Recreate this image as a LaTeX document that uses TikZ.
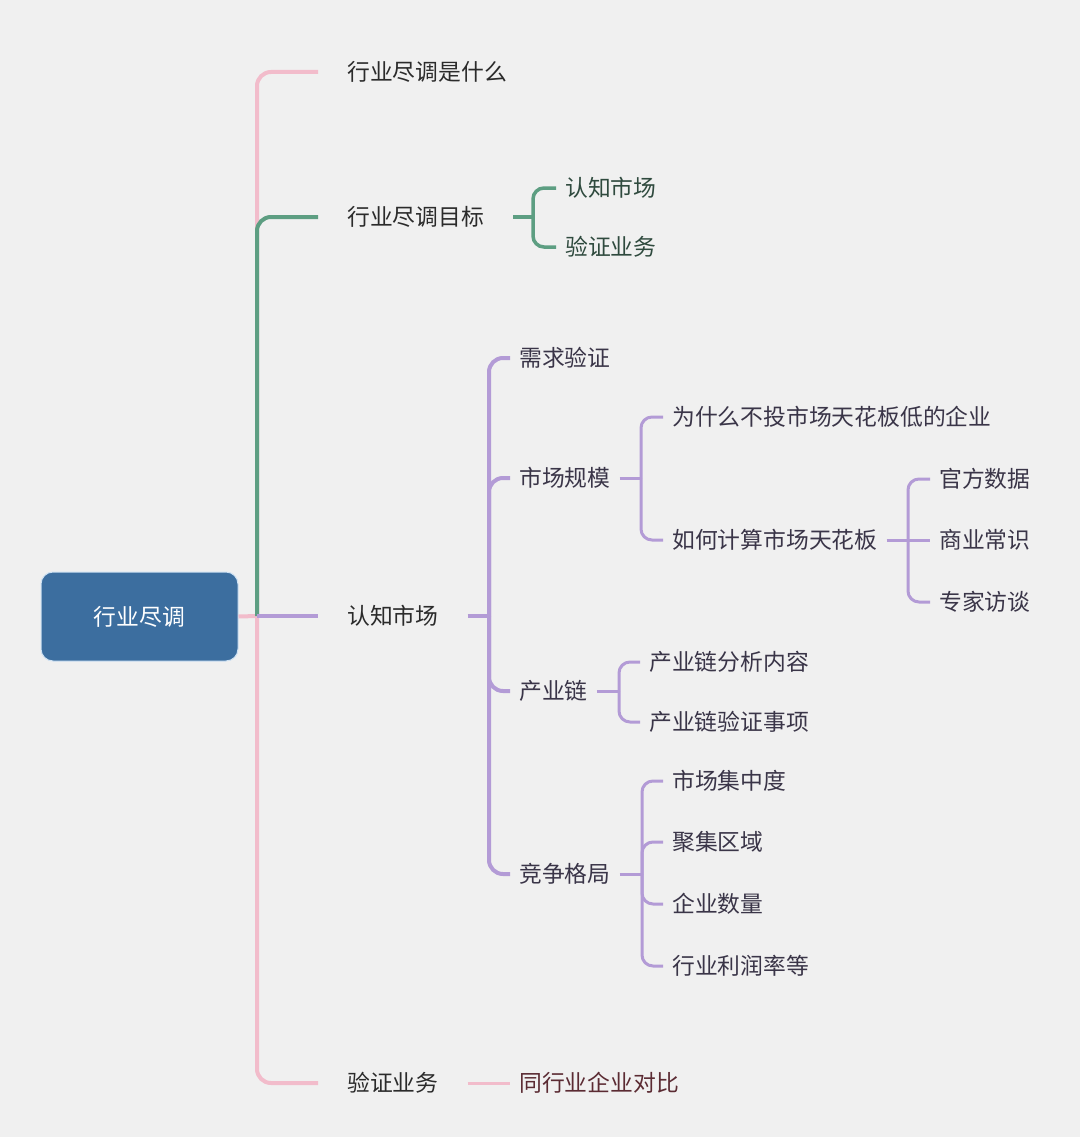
\documentclass[tikz,border=0pt]{standalone}
\usepackage{fontspec}
\setmainfont{Noto Sans CJK SC}
\definecolor{bg}{HTML}{F0F0F0}
\definecolor{rootc}{HTML}{3C6E9F}
\definecolor{rootb}{HTML}{CFE2F3}
\definecolor{pinkc}{HTML}{F2BCCB}
\definecolor{greenc}{HTML}{5D9E82}
\definecolor{purplec}{HTML}{B39BD6}
\definecolor{txtmain}{HTML}{2B2B2B}
\definecolor{txtgreen}{HTML}{2F4A3E}
\definecolor{txtpurple}{HTML}{3A3548}
\definecolor{txtred}{HTML}{5B2B33}
\tikzset{
  base/.style={anchor=west, inner ysep=0pt, text height=20pt, text depth=3pt, font=\fontsize{22.8}{27}\selectfont},
  lone/.style={base, inner xsep=29pt, text=txtmain},
  lgreen/.style={base, inner xsep=9pt, text=txtgreen},
  lpurple/.style={base, inner xsep=9pt, text=txtpurple},
  lred/.style={base, inner xsep=9pt, text=txtred},
  pinkline/.style={draw=pinkc, line width=4pt, rounded corners=14pt},
  greenline/.style={draw=greenc, line width=4pt, rounded corners=14pt},
  purpleline/.style={draw=purplec, line width=4pt, rounded corners=14pt},
  purplethin/.style={draw=purplec, line width=3pt, rounded corners=11pt},
  greenthin/.style={draw=greenc, line width=3.5pt, rounded corners=11pt},
}
\begin{document}
\begin{tikzpicture}[x=1pt,y=-1pt]
\useasboundingbox (0,0) rectangle (1080,1137);
\fill[bg] (0,0) rectangle (1080,1137);

% root
\node[fill=rootc, draw=rootb, line width=1pt, rounded corners=12pt, minimum width=197pt, minimum height=89pt, inner sep=0pt, text=white, font=\fontsize{22.8}{27}\selectfont, text height=20pt, text depth=3pt] (root) at (139.5,616.5) {行业尽调};

\coordinate (T) at (257,616);

% level 1
\node[lone] (a1) at (318,72) {行业尽调是什么};
\node[lone] (a2) at (318,217) {行业尽调目标};
\node[lone] (a3) at (318,616) {认知市场};
\node[lone] (a4) at (318,1083) {验证业务};

\draw[pinkline] (root.east) -- (T);
\draw[pinkline] (T) |- (a1.west);
\draw[pinkline] (T) |- (a4.west);
\draw[greenline] (T) |- (a2.west);
\draw[purpleline] (T) -- (a3.west);

% green subtree
\coordinate (G) at (533,217);
\node[lgreen] (g1) at (556,188) {认知市场};
\node[lgreen] (g2) at (556,247) {验证业务};
\draw[greenthin] (a2.east) -- (G);
\draw[greenthin] (G) |- (g1.west);
\draw[greenthin] (G) |- (g2.west);

% purple subtree
\coordinate (P) at (489,616);
\node[lpurple] (p1) at (510,358) {需求验证};
\node[lpurple] (p2) at (510,478) {市场规模};
\node[lpurple] (p3) at (510,691) {产业链};
\node[lpurple] (p4) at (510,874) {竞争格局};
\draw[purpleline] (a3.east) -- (P);
\foreach \n in {p1,p2,p3,p4} \draw[purpleline] (P) |- (\n.west);

% 市场规模
\coordinate (Q) at (641,478);
\node[lpurple] (q1) at (663,417) {为什么不投市场天花板低的企业};
\node[lpurple] (q2) at (663,540) {如何计算市场天花板};
\draw[purplethin] (p2.east) -- (Q);
\draw[purplethin] (Q) |- (q1.west);
\draw[purplethin] (Q) |- (q2.west);

% 如何计算市场天花板
\coordinate (R) at (908,540);
\node[lpurple] (r1) at (930,479) {官方数据};
\node[lpurple] (r2) at (930,540) {商业常识};
\node[lpurple] (r3) at (930,602) {专家访谈};
\draw[purplethin] (q2.east) -- (r2.west);
\draw[purplethin] (R) |- (r1.west);
\draw[purplethin] (R) |- (r3.west);

% 产业链
\coordinate (S) at (619,691);
\node[lpurple] (s1) at (640,662) {产业链分析内容};
\node[lpurple] (s2) at (640,722) {产业链验证事项};
\draw[purplethin] (p3.east) -- (S);
\draw[purplethin] (S) |- (s1.west);
\draw[purplethin] (S) |- (s2.west);

% 竞争格局
\coordinate (U) at (642,874);
\node[lpurple] (u1) at (663,781) {市场集中度};
\node[lpurple] (u2) at (663,842) {聚集区域};
\node[lpurple] (u3) at (663,904) {企业数量};
\node[lpurple] (u4) at (663,966) {行业利润率等};
\draw[purplethin] (p4.east) -- (U);
\foreach \n in {u1,u2,u3,u4} \draw[purplethin] (U) |- (\n.west);

% 验证业务
\node[lred] (v1) at (510,1083) {同行业企业对比};
\draw[draw=pinkc, line width=3pt] (a4.east) -- (v1.west);
\end{tikzpicture}
\end{document}
